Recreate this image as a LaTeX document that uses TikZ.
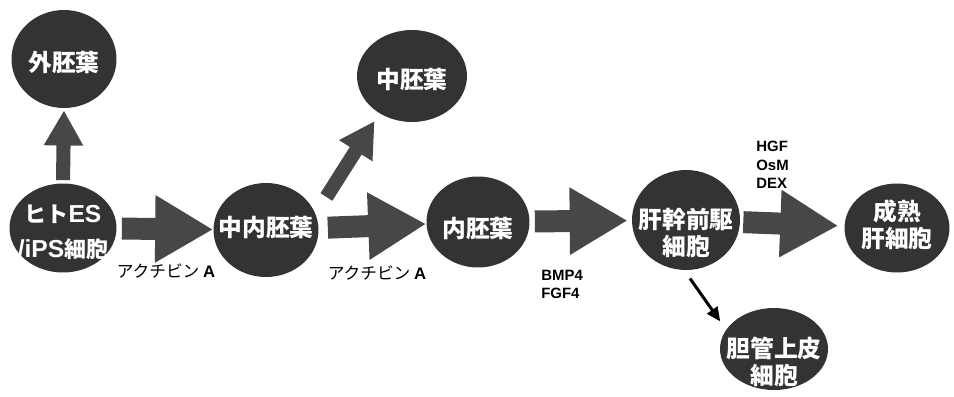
\documentclass[tikz,border=0pt]{standalone}
\usepackage{fontspec}
\setmainfont{Noto Sans CJK JP}
\newfontfamily\latfont{Liberation Sans}
\usetikzlibrary{shapes.geometric,arrows.meta}
\begin{document}
\begin{tikzpicture}[x=0.02cm,y=-0.02cm,
  cell/.style={ellipse, fill=black!80, inner sep=0pt},
  txt/.style={text=white, inner sep=0pt, align=center, font=\fontsize{13.5}{15.5}\selectfont\bfseries},
  fat/.style={draw=black!72, line width=12.5pt, -{Triangle[length=33pt,width=36pt]}},
  mid/.style={draw=black!72, line width=8pt, -{Triangle[length=20pt,width=21pt]}},
  thinarr/.style={draw=black, line width=1.7pt, -{Triangle[length=8pt,width=7pt]}},
  lab/.style={inner sep=0pt, font=\fontsize{9.5}{11}\selectfont},
  fac/.style={inner sep=0pt, align=left, anchor=west, font=\latfont\bfseries\fontsize{8.5}{10.5}\selectfont}]
\useasboundingbox (0,0) rectangle (954,396);

% cells
\node[cell, minimum width=2.10cm, minimum height=1.96cm] (ecto) at (64,59) {};
\node[cell, minimum width=2.14cm, minimum height=1.78cm] (es) at (63,228) {};
\node[cell, minimum width=2.10cm, minimum height=1.88cm] (mesendo) at (266,230) {};
\node[cell, minimum width=2.20cm, minimum height=1.84cm] (meso) at (412,76) {};
\node[cell, minimum width=2.06cm, minimum height=1.82cm] (endo) at (478,222) {};
\node[cell, minimum width=2.16cm, minimum height=2.00cm] (hep) at (686,220) {};
\node[cell, minimum width=2.10cm, minimum height=1.78cm] (mat) at (897,228) {};
\node[cell, minimum width=2.16cm, minimum height=1.64cm] (bil) at (774,349) {};

% cell texts
\node[txt] (ecto-t) at (64,62) {外胚葉};
\node[txt, font=\fontsize{12.5}{20}\selectfont\bfseries] (es-t) at (63,232) {ヒト{\latfont\bfseries\fontsize{14}{20}\selectfont ES}\\{\latfont\bfseries\fontsize{14}{20}\selectfont /iPS}細胞};
\node[txt] (mesendo-t) at (266,228) {中内胚葉};
\node[txt] (meso-t) at (412,79) {中胚葉};
\node[txt] (endo-t) at (478,229) {内胚葉};
\node[txt] (hep-t) at (686,233) {肝幹前駆\\細胞};
\node[txt] (mat-t) at (897,225) {成熟\\肝細胞};
\node[txt] (bil-t) at (774,362) {胆管上皮\\細胞};

% block arrows
\draw[fat, shorten <=0.1cm] (es) -- (mesendo);
\draw[fat, shorten <=0.18cm] (mesendo) -- (endo);
\draw[fat, shorten <=0.1cm, shorten >=0.08cm] (endo) -- (hep);
\draw[fat, shorten <=0.06cm, shorten >=0.12cm] (hep) -- (mat);
\draw[mid, shorten <=0.06cm, shorten >=0.04cm] (es.north) -- (ecto.south);
\draw[mid, shorten <=0.4cm, shorten >=0.18cm] (mesendo.18) -- (meso.229);
\draw[thinarr, shorten <=0.2cm, shorten >=0.2cm] (hep.268) -- (bil.158);

% labels
\node[lab] (act1) at (166,271) {アクチビン {\latfont\bfseries A}};
\node[lab] (act2) at (377,273) {アクチビン {\latfont\bfseries A}};
\node[fac] (bmp) at (541,275) {BMP4};
\node[fac] (fgf) at (541,293) {FGF4};
\node[fac] (hgf) at (756,146) {HGF};
\node[fac] (osm) at (756,165) {OsM};
\node[fac] (dex) at (756,183) {DEX};
\end{tikzpicture}
\end{document}
